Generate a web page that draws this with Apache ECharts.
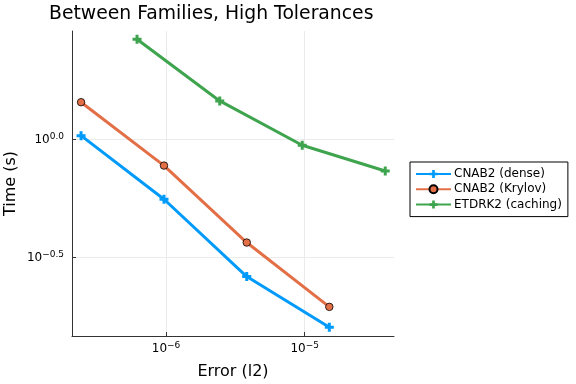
<!DOCTYPE html>
<html>
<head>
<meta charset="utf-8">
<script src="https://cdn.jsdelivr.net/npm/echarts@6/dist/echarts.min.js"></script>
<style>html,body{margin:0;padding:0;background:#fff}#c{width:576px;height:384px}</style>
</head>
<body>
<div id="c"></div>
<script>
// Data (raw values; axes are log10)
const denseErr = [2.44e-7, 9.67e-7, 3.82e-6, 1.505e-5];
const denseTime = [1.036, 0.556, 0.261, 0.159];
const krylovErr = [2.44e-7, 9.67e-7, 3.82e-6, 1.505e-5];
const krylovTime = [1.437, 0.773, 0.364, 0.194];
const etdErr = [6.18e-7, 2.44e-6, 9.6e-6, 3.81e-5];
const etdTime = [2.661, 1.455, 0.943, 0.733];
const seriesNames = ['CNAB2 (dense)', 'CNAB2 (Krylov)', 'ETDRK2 (caching)'];
const xTickExps = [-6, -5];
const yTickExps = [0, -0.5];
const xTickLabels = ['−6', '−5'];
const yTickLabels = ['0.0', '−0.5'];

const colors = ['#009AFA', '#E36F47', '#3EA44E'];
const crossPath = 'path://M3,0H6V3H9V6H6V9H3V6H0V3H3Z';
const FONT = 'DejaVu Sans';

function pts(xs, ys) { return xs.map((x, i) => [Math.log10(x), Math.log10(ys[i])]); }

function supLabel(exps, labels) {
  return function (v) {
    for (let i = 0; i < exps.length; i++) {
      if (Math.abs(v - exps[i]) < 1e-9) return '{b|10}{s|' + labels[i] + '}';
    }
    return '';
  };
}
const rich = {
  b: { fontSize: 12, fontFamily: FONT, color: '#000', lineHeight: 14, verticalAlign: 'bottom' },
  s: { fontSize: 9, fontFamily: FONT, color: '#000', lineHeight: 10, verticalAlign: 'top', padding: [0, 0, 6, 0] }
};

const chart = echarts.init(document.getElementById('c'), null, { renderer: 'canvas' });
chart.setOption({
  animation: false,
  backgroundColor: '#fff',
  title: {
    text: 'Between Families, High Tolerances',
    left: 44, top: 0,
    textStyle: { fontFamily: FONT, fontSize: 18.8, fontWeight: 'normal', color: '#000' }
  },
  grid: { left: 72, right: 182, top: 31, bottom: 48, containLabel: false, outerBoundsMode: 'none' },
  legend: {
    orient: 'vertical',
    left: 410, top: 162,
    padding: [6, 6, 6, 5],
    itemWidth: 35, itemHeight: 10, itemGap: 3.3,
    borderColor: '#000', borderWidth: 1, borderRadius: 0,
    backgroundColor: '#fff',
    textStyle: { fontFamily: FONT, fontSize: 12, color: '#000', padding: [0, 0, 0, -2] },
    data: seriesNames
  },
  xAxis: {
    type: 'value',
    min: -6.678, max: -4.356,
    name: 'Error (l2)', nameLocation: 'middle', nameGap: 28, nameMoveOverlap: false,
    nameTextStyle: { fontFamily: FONT, fontSize: 16, color: '#000' },
    axisLine: { show: true, onZero: false, lineStyle: { color: '#333', width: 1 } },
    axisTick: { show: true, inside: true, length: 4, customValues: xTickExps, lineStyle: { color: '#333' } },
    axisLabel: { customValues: xTickExps, formatter: supLabel(xTickExps, xTickLabels), rich: rich, margin: 5 },
    splitLine: { show: true, lineStyle: { color: '#ebebeb', width: 1 } }
  },
  yAxis: {
    type: 'value',
    min: -0.836, max: 0.460,
    name: 'Time (s)', nameLocation: 'middle', nameGap: 53, nameMoveOverlap: false,
    nameTextStyle: { fontFamily: FONT, fontSize: 16, color: '#000' },
    axisLine: { show: true, onZero: false, lineStyle: { color: '#333', width: 1 } },
    axisTick: { show: true, inside: true, length: 4, customValues: yTickExps, lineStyle: { color: '#333' } },
    axisLabel: { customValues: yTickExps, formatter: supLabel(yTickExps, yTickLabels), rich: rich, margin: 8 },
    splitLine: { show: true, lineStyle: { color: '#ebebeb', width: 1 } }
  },
  series: [
    {
      name: seriesNames[0], type: 'line', data: pts(denseErr, denseTime),
      color: colors[0], lineStyle: { width: 3, color: colors[0] },
      symbol: crossPath, symbolSize: 9, itemStyle: { color: colors[0], borderWidth: 0 }, z: 3
    },
    {
      name: seriesNames[1], type: 'line', data: pts(krylovErr, krylovTime),
      color: colors[1], lineStyle: { width: 3, color: colors[1] },
      symbol: 'circle', symbolSize: 7.5, itemStyle: { color: colors[1], borderColor: '#000', borderWidth: 0.8 }, z: 2
    },
    {
      name: seriesNames[2], type: 'line', data: pts(etdErr, etdTime),
      color: colors[2], lineStyle: { width: 3, color: colors[2] },
      symbol: crossPath, symbolSize: 9, itemStyle: { color: colors[2], borderWidth: 0 }, z: 1
    }
  ]
});
</script>
</body>
</html>
